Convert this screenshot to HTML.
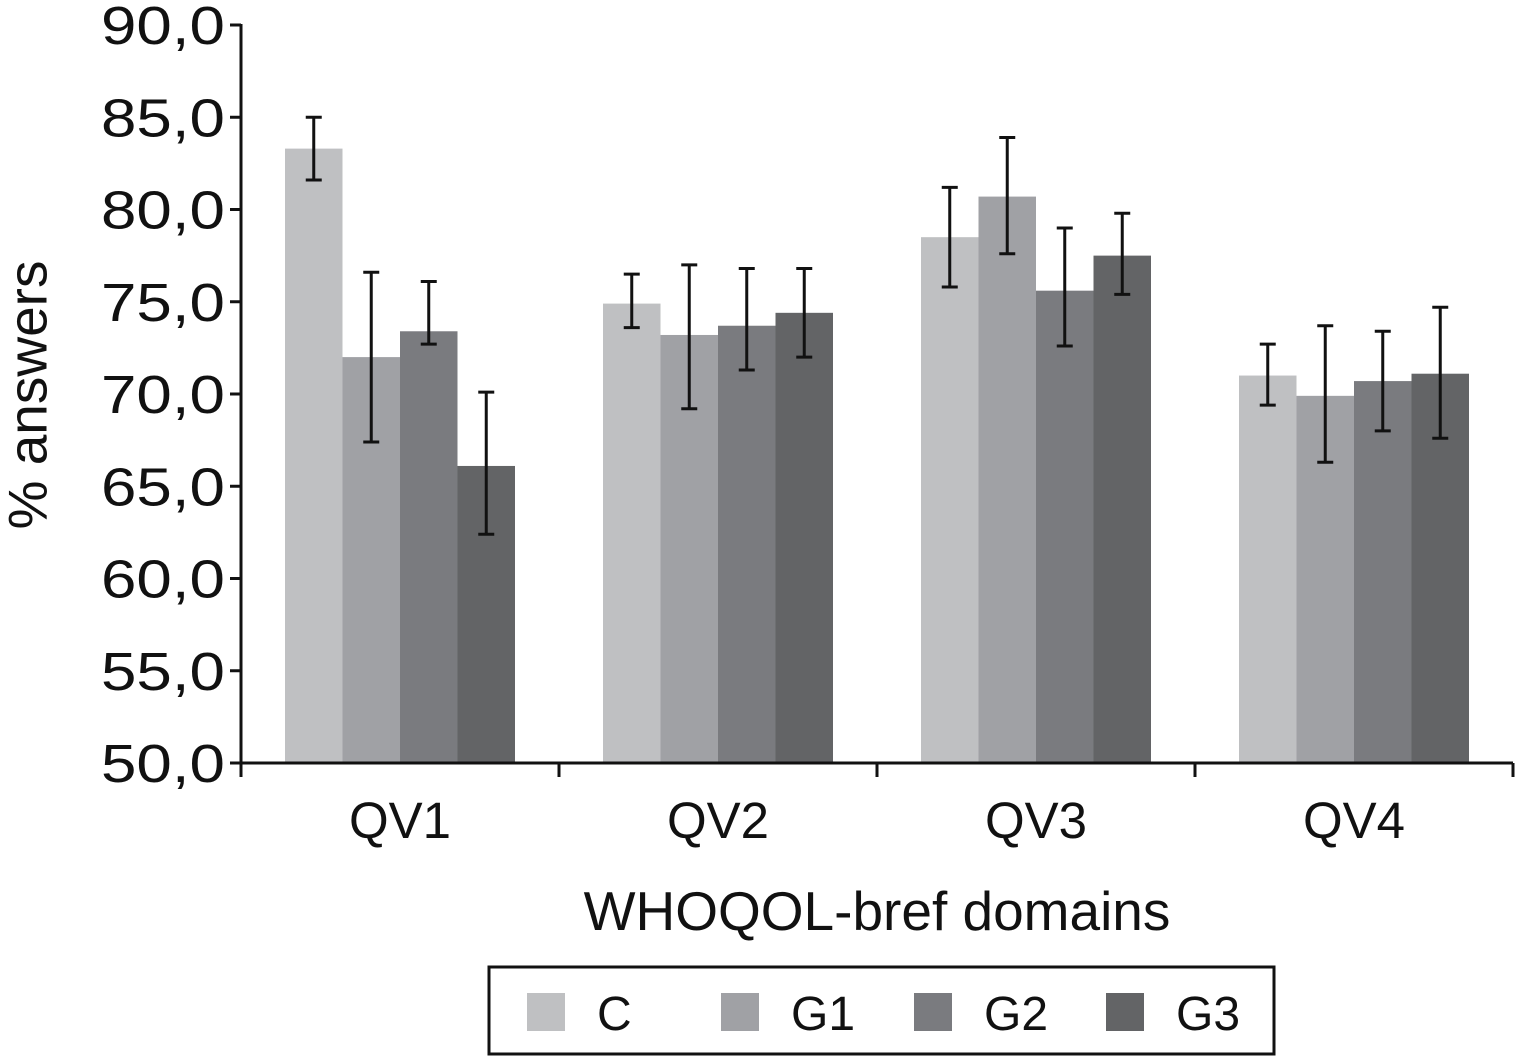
<!DOCTYPE html>
<html><head><meta charset="utf-8"><style>
body{margin:0;background:#fff}
svg{display:block}
text{font-family:"Liberation Sans",Arial,sans-serif;fill:#111}
</style></head><body>
<svg id="chart" width="1515" height="1057" viewBox="0 0 1515 1057">
<g id="plot"></g>
<text x="32" y="395" font-size="55" text-anchor="middle" transform="rotate(-90 32 395)" dominant-baseline="middle">% answers</text>
<text x="877" y="930" font-size="55" text-anchor="middle">WHOQOL-bref domains</text>
<g>
<rect x="489" y="967" width="785" height="87" fill="#fff" stroke="#111" stroke-width="3"/>
<g id="legend"></g>
</g>
</svg>
<script>
const categories=["QV1","QV2","QV3","QV4"];
const seriesNames=["C","G1","G2","G3"];
const valC=[83.3,74.9,78.5,71.0];
const valG1=[72.0,73.2,80.7,69.9];
const valG2=[73.4,73.7,75.6,70.7];
const valG3=[66.1,74.4,77.5,71.1];
const hiC=[85.0,76.5,81.2,72.7];
const loC=[81.6,73.6,75.8,69.4];
const hiG1=[76.6,77.0,83.9,73.7];
const loG1=[67.4,69.2,77.6,66.3];
const hiG2=[76.1,76.8,79.0,73.4];
const loG2=[72.7,71.3,72.6,68.0];
const hiG3=[70.1,76.8,79.8,74.7];
const loG3=[62.4,72.0,75.4,67.6];
const yTicks=["50,0","55,0","60,0","65,0","70,0","75,0","80,0","85,0","90,0"];
const values=[valC,valG1,valG2,valG3],his=[hiC,hiG1,hiG2,hiG3],los=[loC,loG1,loG2,loG3];
const colors=["#bfc0c2","#a0a1a5","#7a7b7f","#636466"];
const NS="http://www.w3.org/2000/svg";
const x0=241,x1=1513,yMin=50,yMax=90,yTop=25,yBot=763;
const catW=(x1-x0)/categories.length,pad=44,barW=(catW-2*pad)/4;
const y=v=>yBot-(v-yMin)/(yMax-yMin)*(yBot-yTop);
const plot=document.getElementById('plot');
function mk(tag,attrs,parent){const e=document.createElementNS(NS,tag);for(const k in attrs)e.setAttribute(k,attrs[k]);(parent||plot).appendChild(e);return e;}
values.forEach((vals,s)=>{vals.forEach((v,i)=>{
 const bx=x0+i*catW+pad+s*barW;
 const r=mk('rect',{x:bx,y:y(v),width:barW,height:yBot-y(v),fill:colors[s]});
 
 
});});
values.forEach((vals,s)=>{vals.forEach((v,i)=>{
 const cx=x0+i*catW+pad+s*barW+barW/2;
 const g=mk('g',{stroke:'#111','stroke-width':3});
 
 
 mk('line',{x1:cx,x2:cx,y1:y(his[s][i]),y2:y(los[s][i])},g);
 mk('line',{x1:cx-8,x2:cx+8,y1:y(his[s][i]),y2:y(his[s][i])},g);
 mk('line',{x1:cx-8,x2:cx+8,y1:y(los[s][i]),y2:y(los[s][i])},g);
});});
const ax=mk('g',{stroke:'#111','stroke-width':3});


mk('line',{x1:x0,x2:x0,y1:yTop-1,y2:yBot+14},ax);
mk('line',{x1:x0,x2:x1,y1:yBot,y2:yBot},ax);
yTicks.forEach((t,i)=>{
 const v=yMin+i*(yMax-yMin)/(yTicks.length-1);
 mk('line',{x1:x0-11,x2:x0,y1:y(v),y2:y(v)},ax);
 const tx=mk('text',{x:225,y:y(v)+19,'font-size':54,'text-anchor':'end','textLength':124,'lengthAdjust':'spacingAndGlyphs'});
 tx.textContent=t;
 
 
});
for(let i=0;i<=categories.length;i++){mk('line',{x1:x0+i*catW,x2:x0+i*catW,y1:yBot,y2:yBot+14},ax);}
categories.forEach((c,i)=>{
 const tx=mk('text',{x:x0+i*catW+catW/2,y:838,'font-size':51,'text-anchor':'middle'});
 tx.textContent=c;
 
 
});
const lg=document.getElementById('legend');
const lx=[527,721,914,1106];
seriesNames.forEach((n,s)=>{
 const g=mk('g',{},lg);
 
 
 mk('rect',{x:lx[s],y:993,width:38,height:38,fill:colors[s]},g);
 const t=mk('text',{x:lx[s]+70,y:1030,'font-size':48},g);
 t.textContent=n;
});
</script>
</body></html>
